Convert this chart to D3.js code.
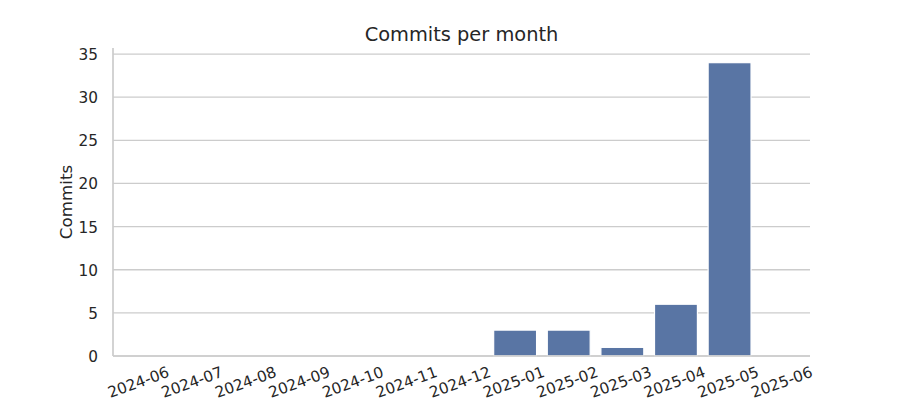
<!DOCTYPE html>
<html>
<head>
<meta charset="utf-8">
<script src="https://cdn.jsdelivr.net/npm/d3@7"></script>
<style>
  body { margin: 0; background: #fff; }
  svg text { font-family: "DejaVu Sans", sans-serif; fill: #262626; }
</style>
</head>
<body>
<svg id="chart" width="900" height="400"></svg>
<script>
// ── Data ─────────────────────────────────────────────────────────────────────
const MONTHS  = ["2024-06", "2024-07", "2024-08", "2024-09", "2024-10", "2024-11",
                 "2024-12", "2025-01", "2025-02", "2025-03", "2025-04", "2025-05", "2025-06"];
const COMMITS = [0, 0, 0, 0, 0, 0, 0, 3, 3, 1, 6, 34, 0];
const Y_TICKS = [0, 5, 10, 15, 20, 25, 30, 35];

// ── Layout ───────────────────────────────────────────────────────────────────
const M  = { top: 48, right: 90, bottom: 44, left: 113 };
const VW = 900, VH = 400;
const W  = VW - M.left - M.right;
const H  = VH - M.top  - M.bottom;

const GRID = "#cccccc";
const BAR  = "#5975a4";

const svg = d3.select("#chart");
const g   = svg.append("g").attr("transform", `translate(${M.left},${M.top})`);

const x = d3.scaleBand().domain(MONTHS).range([0, W]).paddingInner(0.2).paddingOuter(0.1);
const y = d3.scaleLinear().domain([0, d3.max(COMMITS) * 1.05]).range([H, 0]);

// Grid lines
g.append("g")
  .selectAll("line")
  .data(Y_TICKS)
  .join("line")
  .attr("x1", 0).attr("x2", W)
  .attr("y1", d => y(d)).attr("y2", d => y(d))
  .attr("stroke", GRID).attr("stroke-width", 1.3);

// Y axis labels
const yAxisG = g.append("g")
  .call(d3.axisLeft(y).tickValues(Y_TICKS).tickSize(0).tickPadding(15));
yAxisG.select(".domain").remove();
yAxisG.selectAll("text").attr("font-size", "15.3px").attr("fill", "#262626")
  .attr("dy", "0.36em");

// Bars
g.append("g")
  .selectAll("rect")
  .data(MONTHS.map((m, i) => ({ m, v: COMMITS[i] })))
  .join("rect")
  .attr("x", d => x(d.m))
  .attr("y", d => y(d.v))
  .attr("width", x.bandwidth())
  .attr("height", d => y(0) - y(d.v))
  .attr("fill", BAR)
  .attr("stroke", d => d.v > 0 ? "#fff" : "none")
  .attr("stroke-width", 1.2);

// Spines (left + bottom)
g.append("line").attr("x1", 0).attr("x2", 0).attr("y1", 0).attr("y2", H)
  .attr("stroke", GRID).attr("stroke-width", 1.7);
g.append("line").attr("x1", 0).attr("x2", W).attr("y1", H).attr("y2", H)
  .attr("stroke", GRID).attr("stroke-width", 1.7);

// X tick labels, rotated
g.append("g")
  .selectAll("text")
  .data(MONTHS)
  .join("text")
  .attr("transform", d => `translate(${x(d) + x.bandwidth() / 2 - 1.5},${H + 26}) rotate(-20)`)
  .attr("text-anchor", "middle")
  .attr("dy", "0.36em")
  .attr("font-size", "15.3px")
  .text(d => d);

// Y label
svg.append("text")
  .attr("transform", `translate(72,${M.top + H / 2}) rotate(-90)`)
  .attr("text-anchor", "middle")
  .attr("font-size", "16.7px")
  .text("Commits");

// Title
svg.append("text")
  .attr("x", M.left + W / 2)
  .attr("y", 41)
  .attr("text-anchor", "middle")
  .attr("font-size", "19.4px")
  .text("Commits per month");
</script>
</body>
</html>
